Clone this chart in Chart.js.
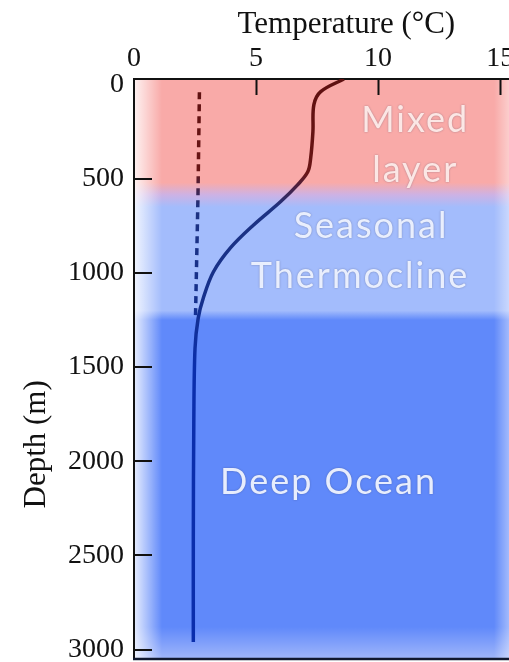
<!DOCTYPE html>
<html><head><meta charset="utf-8">
<script src="https://cdn.jsdelivr.net/npm/chart.js@4/dist/chart.umd.min.js"></script>
<style>
html,body{margin:0;padding:0;background:#fff;overflow:hidden;}
#wrap{position:relative;width:516px;height:662px;}
</style></head><body>
<div id="wrap"><canvas id="c"></canvas></div>
<script>
// ---- data ----
const xTickValues = [0, 5, 10, 15];
const yTickValues = [0, 500, 1000, 1500, 2000, 2500, 3000];
const profileTemp  = [8.6, 7.65, 7.37, 7.33, 7.24, 7.12, 6.7, 6.0, 4.9, 3.95, 3.25, 2.84, 2.63, 2.5, 2.45, 2.43, 2.43];
const profileDepth = [-30, 37, 106, 250, 388, 463, 532, 622, 745, 867, 995, 1133, 1240, 1400, 1800, 2400, 2960];
const dashTemp  = [2.68, 2.62, 2.52];
const dashDepth = [40, 600, 1230];
const zoneNames = ['Mixed layer', 'Seasonal Thermocline', 'Deep Ocean'];
const zoneTop   = [-30, 650, 1250];
const zoneBottom= [520, 1200, 3050];
const labelLines = ['Mixed', 'layer', 'Seasonal', 'Thermocline', 'Deep Ocean'];
const labelTemp  = [11.48, 11.48, 9.67, 9.22, 7.93];
const labelDepth = [252, 518, 816, 1082, 2172];
const xTitle = 'Temperature (°C)';
const yTitle = 'Depth (m)';

const pts = (xs, ys) => xs.map((v, i) => ({x: v, y: ys[i]}));

function lineGradient(ctx) {
  const chart = ctx.chart;
  if (!chart.chartArea) return '#1a2f80';
  const y = chart.scales.y;
  const top = y.getPixelForValue(zoneTop[0]), bot = y.getPixelForValue(zoneBottom[2]);
  const g = chart.ctx.createLinearGradient(0, top, 0, bot);
  const f = d => Math.min(1, Math.max(0, (y.getPixelForValue(d) - top) / (bot - top)));
  g.addColorStop(0, '#5e1010');
  g.addColorStop(f(470), '#6a1515');
  g.addColorStop(f(650), '#1d3282');
  g.addColorStop(f(1150), '#15308c');
  g.addColorStop(f(1500), '#0a2eac');
  g.addColorStop(1, '#0a2eac');
  return g;
}

const zoneColors = ['rgb(249,170,168)', 'rgb(163,188,252)', 'rgb(96,137,250)'];

const bgPlugin = {
  id: 'bg',
  beforeDraw(chart) {
    const {ctx, chartArea: a, scales: {y}} = chart;
    ctx.save();
    const top = a.top, bot = a.bottom;
    const g = ctx.createLinearGradient(0, top, 0, bot);
    const f = d => Math.min(1, Math.max(0, (y.getPixelForValue(d) - top) / (bot - top)));
    g.addColorStop(0, zoneColors[0]);
    g.addColorStop(f(zoneBottom[0]), zoneColors[0]);
    g.addColorStop(f((zoneBottom[0] + zoneTop[1]) / 2), 'rgb(205,178,228)');
    g.addColorStop(f(zoneTop[1]), zoneColors[1]);
    g.addColorStop(f(zoneBottom[1]), zoneColors[1]);
    g.addColorStop(f(zoneTop[2]), zoneColors[2]);
    g.addColorStop(f(2880), zoneColors[2]);
    g.addColorStop(1, 'rgb(160,182,250)');
    ctx.fillStyle = g;
    ctx.fillRect(a.left, a.top, a.right - a.left, a.bottom - a.top);
    // left fade
    const lg = ctx.createLinearGradient(a.left, 0, a.left + 28, 0);
    lg.addColorStop(0, 'rgba(255,255,255,0.85)');
    lg.addColorStop(1, 'rgba(255,255,255,0)');
    ctx.fillStyle = lg;
    ctx.fillRect(a.left, a.top, 28, a.bottom - a.top);
    // right fade
    const rx = chart.scales.x.getPixelForValue(14.75);
    const rg = ctx.createLinearGradient(rx, 0, rx + 18, 0);
    rg.addColorStop(0, 'rgba(255,255,255,0)');
    rg.addColorStop(1, 'rgba(255,255,255,0.5)');
    ctx.fillStyle = rg;
    ctx.fillRect(rx, a.top, a.right - rx, a.bottom - a.top);
    ctx.restore();
  },
  afterDatasetsDraw(chart) {
    const {ctx, chartArea: a, scales: {x, y}} = chart;
    ctx.save();
    // region labels
    ctx.textAlign = 'center';
    ctx.textBaseline = 'alphabetic';
    ctx.shadowColor = 'rgba(60,60,90,0.45)';
    ctx.shadowBlur = 2;
    ctx.font = '36px Lato, "Open Sans", sans-serif';
    ctx.letterSpacing = '2px';
    labelLines.forEach((t, i) => {
      ctx.fillStyle = i < 2 ? 'rgba(255,236,234,0.95)' : 'rgba(236,242,255,0.97)';
      ctx.fillText(t, x.getPixelForValue(labelTemp[i]) + 1, y.getPixelForValue(labelDepth[i]));
    });
    ctx.letterSpacing = '0px';
    ctx.shadowBlur = 0; ctx.shadowColor = 'transparent';
    // inward tick marks
    ctx.strokeStyle = '#111';
    ctx.lineWidth = 2;
    xTickValues.filter(v => v > 0).forEach(v => {
      const px = Math.round(x.getPixelForValue(v)) + 0.5;
      ctx.beginPath(); ctx.moveTo(px, a.top); ctx.lineTo(px, a.top + 16); ctx.stroke();
    });
    yTickValues.filter(v => v > 0).forEach(v => {
      const py = Math.round(y.getPixelForValue(v));
      ctx.beginPath(); ctx.moveTo(a.left, py); ctx.lineTo(a.left + 18, py); ctx.stroke();
    });
    // bottom border
    ctx.strokeStyle = '#101830';
    ctx.lineWidth = 2.5;
    ctx.beginPath(); ctx.moveTo(a.left - 1, a.bottom); ctx.lineTo(a.right, a.bottom); ctx.stroke();
    ctx.restore();
  },
  afterDraw(chart) {
    const {ctx, scales: {x, y}} = chart;
    ctx.save();
    ctx.fillStyle = '#111';
    ctx.font = '31px "Liberation Serif", "Times New Roman", serif';
    ctx.textAlign = 'center';
    ctx.textBaseline = 'middle';
    ctx.fillText(xTitle, x.getPixelForValue(8.7), 25);
    ctx.translate(37, y.getPixelForValue(1910));
    ctx.rotate(-Math.PI / 2);
    ctx.fillText(yTitle, 0, 0);
    ctx.restore();
  }
};

new Chart(document.getElementById('c'), {
  type: 'scatter',
  data: {
    datasets: [
      {
        data: pts(profileTemp, profileDepth),
        showLine: true, pointRadius: 0, borderWidth: 3.5, tension: 0.35,
        borderColor: lineGradient, fill: false
      },
      {
        data: pts(dashTemp, dashDepth),
        showLine: true, pointRadius: 0, borderWidth: 3.5, tension: 0,
        borderDash: [7, 5], borderColor: lineGradient, fill: false
      }
    ]
  },
  options: {
    responsive: true, maintainAspectRatio: false, animation: false,
    layout: {padding: {left: 68, right: 0, top: 0, bottom: 3}},
    plugins: {legend: {display: false}, tooltip: {enabled: false}},
    scales: {
      x: {
        type: 'linear', position: 'top', min: 0, max: 15.65,
        afterBuildTicks: s => { s.ticks = xTickValues.map(v => ({value: v})); },
        afterFit: s => { s.height = 79; s.paddingLeft = 0; s.paddingRight = 0; },
        grid: {display: false, drawTicks: false},
        border: {display: true, color: '#111', width: 2},
        ticks: {padding: 4, color: '#111', callback: v => String(v),
                font: {family: '"Liberation Serif", serif', size: 28}}
      },
      y: {
        type: 'linear', reverse: true, min: -30, max: 3050,
        afterBuildTicks: s => { s.ticks = yTickValues.map(v => ({value: v})); },
        afterFit: s => { s.width = 66; s.paddingTop = 0; s.paddingBottom = 0; },
        grid: {display: false, drawTicks: false},
        border: {display: true, color: '#111', width: 2},
        ticks: {padding: 10, color: '#111', callback: v => String(v),
                font: {family: '"Liberation Serif", serif', size: 28}}
      }
    }
  },
  plugins: [bgPlugin]
});
</script>
</body></html>
